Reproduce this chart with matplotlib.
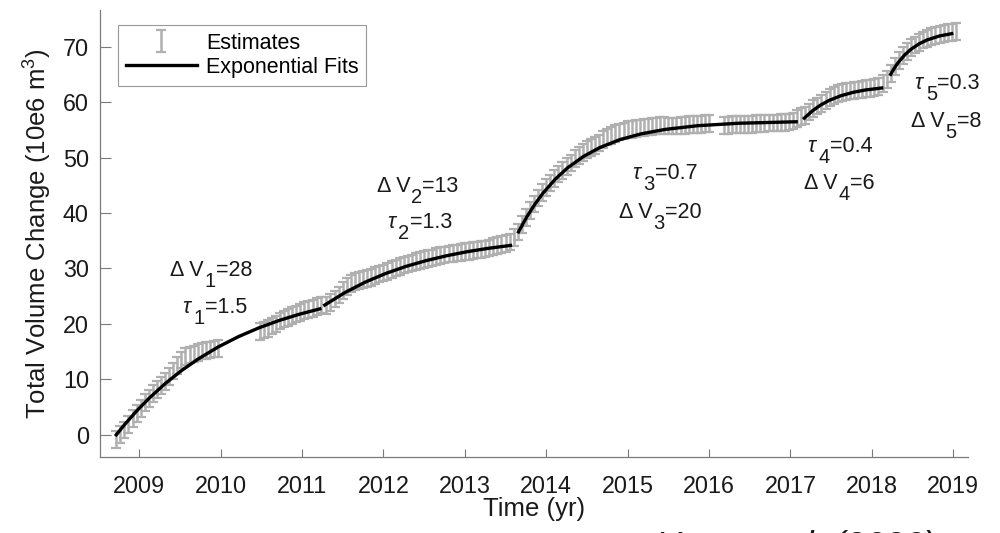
import matplotlib.pyplot as plt
import numpy as np

plt.rcParams.update({"font.family": ["Liberation Sans", "DejaVu Sans"], "mathtext.fontset": "custom",
                     "mathtext.rm": "Liberation Sans", "mathtext.it": "Liberation Sans:italic",
                     "mathtext.sf": "Liberation Sans"})
GRAY, AXC, INK = "#b0b0b0", "#7a7a7a", "#1a1a1a"

# volume-change estimates (10e6 m^3), one list per data chunk
est_t_a = [2008.72, 2008.77, 2008.82, 2008.87, 2008.92, 2008.97, 2009.02, 2009.07, 2009.12, 2009.17,
           2009.22, 2009.27, 2009.32, 2009.37, 2009.42, 2009.47, 2009.52, 2009.57, 2009.62, 2009.67,
           2009.72, 2009.77, 2009.82, 2009.87, 2009.92, 2009.97]
est_v_a = [-0.8, 0.0, 0.9, 1.9, 2.9, 3.8, 4.8, 5.8, 6.6, 7.5,
           8.2, 8.9, 9.6, 10.5, 11.5, 12.5, 13.5, 14.1, 14.4, 14.6,
           14.9, 15.1, 15.2, 15.3, 15.5, 15.6]
est_t_b = [2010.48, 2010.53, 2010.58, 2010.63, 2010.68, 2010.73, 2010.78, 2010.83, 2010.88, 2010.93,
           2010.98, 2011.03, 2011.08, 2011.13, 2011.18, 2011.23]
est_v_b = [18.6, 18.9, 19.2, 19.6, 20.0, 20.5, 20.9, 21.2, 21.5, 21.8,
           22.1, 22.4, 22.6, 22.8, 23.1, 23.4]
est_t_c = [2011.30, 2011.35, 2011.40, 2011.45, 2011.50, 2011.55, 2011.60, 2011.65, 2011.70, 2011.75,
           2011.80, 2011.85, 2011.90, 2011.95, 2012.00, 2012.05, 2012.10, 2012.15, 2012.20, 2012.25,
           2012.30, 2012.35, 2012.40, 2012.45, 2012.50, 2012.55, 2012.60, 2012.65, 2012.70, 2012.75,
           2012.80, 2012.85, 2012.90, 2012.95, 2013.00, 2013.05, 2013.10, 2013.15, 2013.20, 2013.25,
           2013.30, 2013.35, 2013.40, 2013.45, 2013.50, 2013.55, 2013.60, 2013.65]
est_v_c = [23.3, 23.9, 24.5, 25.2, 26.0, 26.8, 27.3, 27.6, 27.8, 28.0,
           28.2, 28.4, 28.7, 29.0, 29.2, 29.5, 29.8, 30.1, 30.4, 30.6,
           30.8, 31.0, 31.2, 31.4, 31.6, 31.8, 31.9, 32.1, 32.3, 32.4,
           32.6, 32.7, 32.8, 32.9, 33.0, 33.1, 33.2, 33.3, 33.4, 33.5,
           33.7, 33.9, 34.1, 34.3, 34.5, 34.8, 35.6, 36.6]
est_t_d = [2013.70, 2013.75, 2013.80, 2013.85, 2013.90, 2013.95, 2014.00, 2014.05, 2014.10, 2014.15,
           2014.20, 2014.25, 2014.30, 2014.35, 2014.40, 2014.45, 2014.50, 2014.55, 2014.60, 2014.65,
           2014.70, 2014.75, 2014.80, 2014.85, 2014.90, 2014.95, 2015.00, 2015.05, 2015.10, 2015.15,
           2015.20, 2015.25, 2015.30, 2015.35, 2015.40, 2015.45, 2015.50, 2015.55, 2015.60, 2015.65,
           2015.70, 2015.75, 2015.80, 2015.85, 2015.90, 2015.95, 2016.00]
est_v_d = [37.9, 39.2, 40.5, 41.6, 42.7, 43.7, 44.6, 45.4, 46.2, 47.0,
           47.7, 48.4, 49.0, 49.8, 50.4, 50.9, 51.4, 51.8, 52.2, 52.6,
           53.3, 53.7, 54.0, 54.3, 54.6, 54.8, 55.0, 55.1, 55.2, 55.3,
           55.4, 55.5, 55.6, 55.7, 55.8, 55.8, 55.7, 55.7, 55.7, 55.8,
           55.8, 55.9, 55.9, 56.0, 56.0, 56.1, 56.1]
est_t_e = [2016.18, 2016.23, 2016.28, 2016.33, 2016.38, 2016.43, 2016.48, 2016.53, 2016.58, 2016.63,
           2016.68, 2016.73, 2016.78, 2016.83, 2016.88, 2016.93, 2016.98, 2017.03, 2017.08, 2017.13,
           2017.18, 2017.23, 2017.28, 2017.33, 2017.38, 2017.43, 2017.48, 2017.53, 2017.58, 2017.63,
           2017.68, 2017.73, 2017.78, 2017.83, 2017.88, 2017.93, 2017.98, 2018.03, 2018.08, 2018.13,
           2018.18, 2018.23, 2018.28, 2018.33, 2018.38, 2018.43, 2018.48, 2018.53, 2018.58, 2018.63,
           2018.68, 2018.73, 2018.78, 2018.83, 2018.88, 2018.93, 2018.98, 2019.03]
est_v_e = [55.8, 55.8, 55.9, 55.9, 55.9, 56.0, 56.0, 56.0, 56.1, 56.1,
           56.1, 56.2, 56.2, 56.2, 56.3, 56.3, 56.4, 56.6, 57.0, 57.4,
           57.6, 58.2, 58.8, 59.3, 59.8, 60.3, 60.8, 61.2, 61.5, 61.7,
           61.9, 62.0, 62.1, 62.2, 62.3, 62.4, 62.5, 62.6, 62.8, 63.3,
           64.1, 65.1, 66.4, 67.5, 68.4, 69.1, 69.8, 70.3, 70.8, 71.2,
           71.5, 71.8, 72.0, 72.2, 72.4, 72.5, 72.6, 72.7]
est_err = 1.5

# exponential-fit curves, points
fit1_t = [2008.72, 2008.82, 2008.97, 2009.12, 2009.32, 2009.52, 2009.72, 2009.97, 2010.22,
          2010.47, 2010.72, 2010.97, 2011.22]
fit1_v = [0.0, 1.81, 4.30, 6.55, 9.23, 11.57, 13.62, 15.83, 17.70, 19.28, 20.62, 21.75, 22.71]
fit2_t = [2011.28, 2011.53, 2011.78, 2012.03, 2012.28, 2012.53, 2012.78, 2013.03, 2013.28, 2013.56]
fit2_v = [23.4, 25.67, 27.55, 29.10, 30.38, 31.43, 32.30, 33.02, 33.61, 34.15]
fit3_t = [2013.66, 2013.76, 2013.86, 2013.96, 2014.11, 2014.26, 2014.46, 2014.66, 2014.91,
          2015.16, 2015.46, 2015.86, 2016.36, 2017.07]
fit3_v = [36.6, 39.26, 41.57, 43.57, 46.08, 48.11, 50.22, 51.81, 53.25, 54.25, 55.07, 55.74,
          56.18, 56.45]
fit4_t = [2017.17, 2017.27, 2017.37, 2017.47, 2017.62, 2017.77, 2017.92, 2018.12]
fit4_v = [57.1, 58.43, 59.46, 60.27, 61.15, 61.76, 62.18, 62.54]
fit5_t = [2018.23, 2018.28, 2018.33, 2018.405, 2018.48, 2018.58, 2018.68, 2018.83, 2018.98]
fit5_v = [65.0, 66.23, 67.27, 68.54, 69.52, 70.51, 71.22, 71.92, 72.34]

# annotations: (symbol, subscript, value), anchored at the left end of the baseline
ann_head = ["Δ V", r"$\tau$", "Δ V", r"$\tau$", r"$\tau$", "Δ V", r"$\tau$", "Δ V", r"$\tau$", "Δ V"]
ann_sub = ["1", "1", "2", "2", "3", "3", "4", "4", "5", "5"]
ann_val = ["=28", "=1.5", "=13", "=1.3", "=0.7", "=20", "=0.4", "=6", "=0.3", "=8"]
ann_xy = [(2009.38, 28.6), (2009.53, 22.0), (2011.92, 43.8), (2012.04, 37.3),
          (2015.05, 46.1), (2014.90, 39.1), (2017.20, 51.0), (2017.17, 44.3),
          (2018.52, 62.3), (2018.48, 55.5)]

est_t = est_t_a + est_t_b + est_t_c + est_t_d + est_t_e
est_v = est_v_a + est_v_b + est_v_c + est_v_d + est_v_e
fits = [(fit1_t, fit1_v), (fit2_t, fit2_v), (fit3_t, fit3_v), (fit4_t, fit4_v), (fit5_t, fit5_v)]

fig = plt.figure(figsize=(10, 5.33), dpi=100)
ax = fig.add_axes([0.10, 0.1426, 0.868, 0.8386])

eb = ax.errorbar(est_t, est_v, yerr=est_err, fmt="none", ecolor=GRAY, elinewidth=1.8,
                 capsize=3.5, capthick=1.6, zorder=2)
lines = [ax.plot(t, v, color="k", lw=2.4, zorder=3)[0] for t, v in fits]

FS = 15.5
for head, sub, val, (x, y) in zip(ann_head, ann_sub, ann_val, ann_xy):
    t1 = ax.text(x, y, head, fontsize=FS, color=INK, ha="left", va="baseline")
    t2 = ax.annotate(sub, xy=(1, 0), xycoords=t1, xytext=(0.3, -7), textcoords="offset points",
                     fontsize=FS - 1, color=INK, ha="left", va="bottom")
    ax.annotate(val, xy=(1, 0), xycoords=(t2, t1), xytext=(0.3, 0), textcoords="offset points",
                fontsize=FS, color=INK, ha="left", va="bottom")

ax.set_xlim(2008.52, 2019.18)
ax.set_ylim(-4, 76.6)
ax.set_xticks(np.arange(2009, 2020))
ax.set_yticks(np.arange(0, 71, 10))
ax.tick_params(direction="in", width=0.8, color=AXC, labelsize=16.8, labelcolor=INK)
ax.tick_params(axis="x", length=6, pad=13)
ax.tick_params(axis="y", length=8, pad=8)
for side in ("top", "right"):
    ax.spines[side].set_visible(False)
for side in ("left", "bottom"):
    ax.spines[side].set_color(AXC)
    ax.spines[side].set_linewidth(0.9)

ax.set_xlabel("Time (yr)", fontsize=18.5, color=INK)
ax.set_ylabel(r"Total Volume Change (10e6 m$^3$)", fontsize=18.5, color=INK)
ax.xaxis.set_label_coords(0.5, -0.09)
ax.yaxis.set_label_coords(-0.053, 0.5)

leg = ax.legend([eb, lines[0]], ["Estimates", "Exponential Fits"], loc="upper left",
                bbox_to_anchor=(0.0207, 0.966), borderaxespad=0,
                fontsize=15.5, frameon=True, fancybox=False, edgecolor="#808080",
                handlelength=3.3, handletextpad=0.45, borderpad=0.35, labelspacing=0.15)
leg.get_frame().set_linewidth(0.8)
for h in leg.legend_handles[0].get_children():
    h.set_linewidth(0.9)

# citation line that sits mostly below the bottom edge of the picture
fig.text(0.657, 3 / 533, "Yang et al. (2020)", fontsize=25.5, style="italic",
         ha="left", va="top", color=INK)

fig.savefig("out.png", dpi=100)
